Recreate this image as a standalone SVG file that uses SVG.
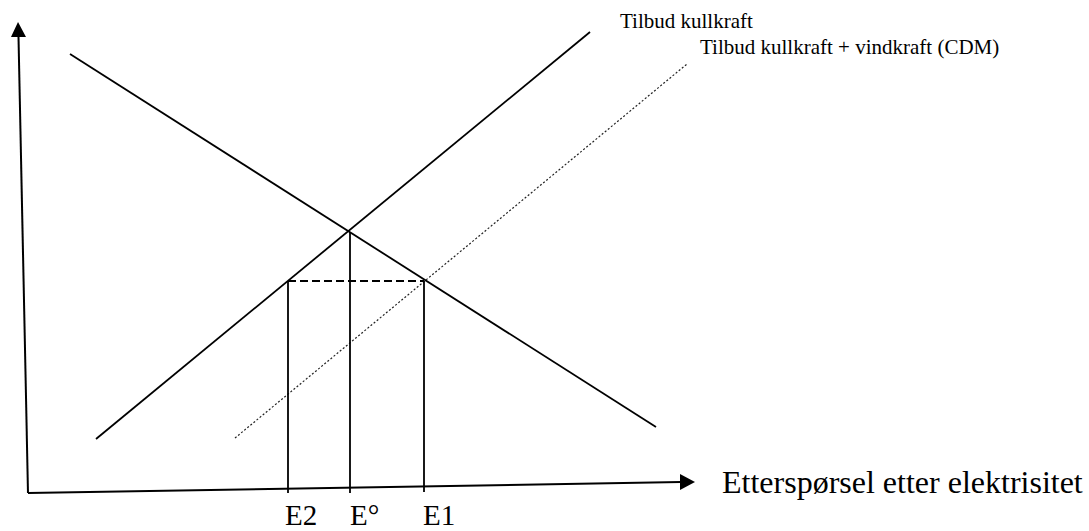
<svg xmlns="http://www.w3.org/2000/svg" width="1089" height="531" viewBox="0 0 1089 531">
<style>
.ax{stroke:#000;stroke-width:2;fill:none}
.ln{stroke:#000;stroke-width:1.8;fill:none}
.dot{stroke:#222;stroke-width:1.2;stroke-dasharray:2 2;fill:none}
.dash{stroke:#000;stroke-width:1.8;stroke-dasharray:8 4;fill:none}
.t{font-family:"Liberation Serif","Times New Roman",serif;fill:#000}
</style>
<rect width="1089" height="531" fill="#fff"/>
<g id="axes">
<line class="ax" x1="28" y1="493" x2="18.5" y2="37"/>
<polygon points="18,22 11,37 26,37" fill="#000"/>
<line class="ax" x1="28" y1="493" x2="681" y2="482"/>
<polygon points="695,482 680,474 680,490" fill="#000"/>
</g>
<g id="connectors">
<line id="demand" class="ln" x1="70" y1="54" x2="656" y2="427"/>
<line id="supply" class="ln" x1="96" y1="439" x2="590" y2="32"/>
<line id="supply-cdm" class="dot" x1="235" y1="438" x2="687" y2="64"/>
<line class="dash" x1="288" y1="281" x2="424" y2="281"/>
<line class="ln" x1="288" y1="281" x2="288" y2="493"/>
<line class="ln" x1="350" y1="232" x2="350" y2="493"/>
<line class="ln" x1="424" y1="281" x2="424" y2="492"/>
</g>
<g id="labels">
<text class="t" x="620" y="28" font-size="21">Tilbud kullkraft</text>
<text class="t" x="700" y="54" font-size="21">Tilbud kullkraft + vindkraft (CDM)</text>
<text class="t" x="722" y="493" font-size="32">Etterspørsel etter elektrisitet</text>
<text class="t" x="285" y="525" font-size="29">E2</text>
<text class="t" x="350" y="525" font-size="29">E°</text>
<text class="t" x="423" y="525" font-size="29">E1</text>
</g>
</svg>
